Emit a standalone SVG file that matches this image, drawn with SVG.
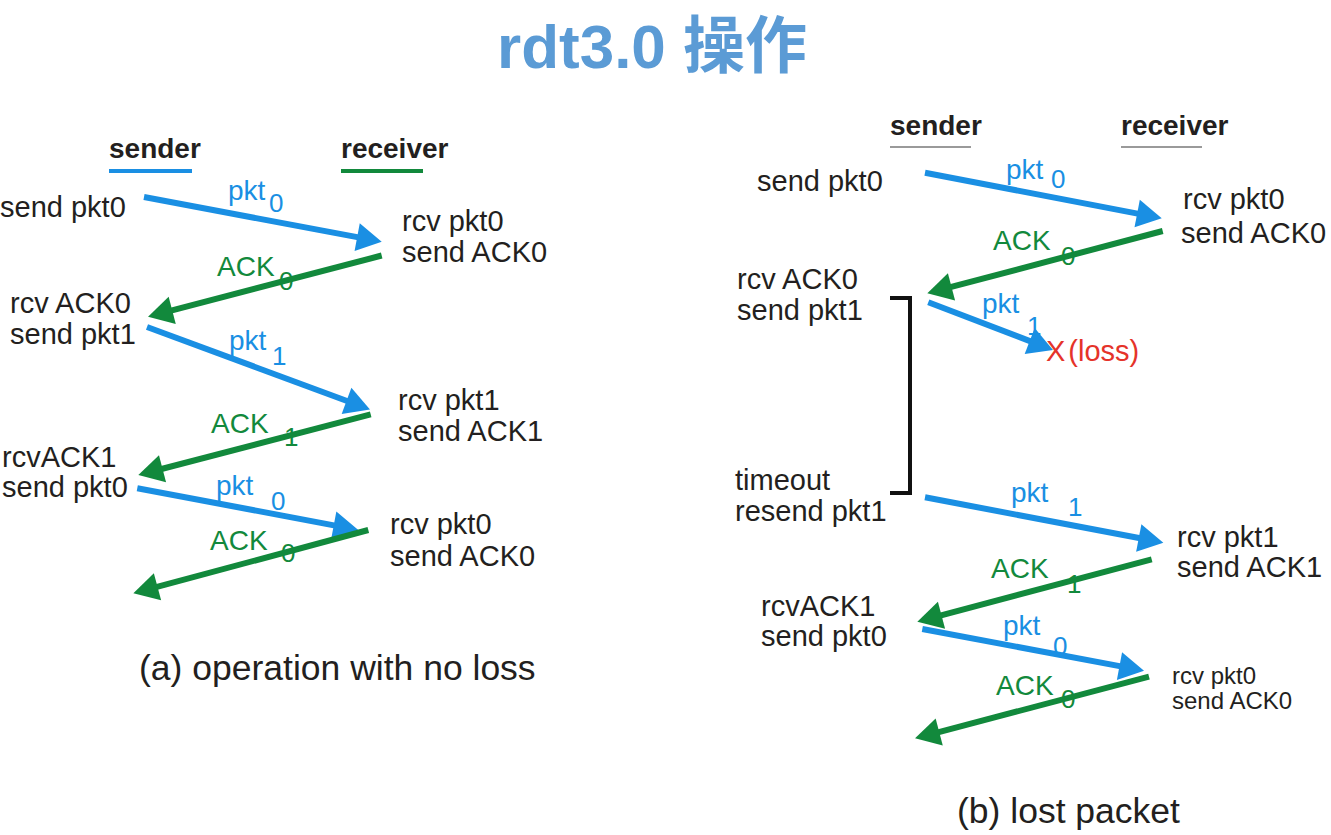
<svg xmlns="http://www.w3.org/2000/svg" width="1331" height="835" viewBox="0 0 1331 835">
<style>
text{font-family:"Liberation Sans","Noto Sans CJK SC",sans-serif}
.t{font-size:29px;fill:#231f20}
.ts{font-size:24px;fill:#231f20}
.h{font-size:28px;font-weight:bold;fill:#231f20}
.cap{font-size:35.5px;fill:#231f20}
.lb{font-size:28px;fill:#1a8fe3}
.sb{font-size:26px;fill:#1a8fe3}
.lg{font-size:28px;fill:#12893c}
.sg{font-size:26px;fill:#12893c}
.b{stroke:#1a8fe3;stroke-width:6;fill:none;marker-end:url(#ab)}
.g{stroke:#12893c;stroke-width:6;fill:none;marker-end:url(#ag)}
</style>
<defs>
<marker id="ab" markerUnits="userSpaceOnUse" markerWidth="25" markerHeight="28" refX="15" refY="14" orient="auto" overflow="visible"><path d="M0,0 L25,14 L0,28 z" fill="#1a8fe3"/></marker>
<marker id="ag" markerUnits="userSpaceOnUse" markerWidth="25" markerHeight="28" refX="15" refY="14" orient="auto" overflow="visible"><path d="M0,0 L25,14 L0,28 z" fill="#12893c"/></marker>
</defs>
<rect width="1331" height="835" fill="#ffffff"/>
<g id="title"><text x="497" y="68" style="font-size:62px;font-weight:bold;fill:#5b9bd5">rdt3.0 操作</text></g>

<!-- (a) -->
<g id="a-sender"><text class="h" x="109" y="158">sender</text><rect x="109" y="169" width="83" height="4" fill="#1a8fe3"/></g>
<g id="a-receiver"><text class="h" x="341" y="158">receiver</text><rect x="341" y="169" width="82" height="4" fill="#12893c"/></g>
<g id="a-s1"><text class="t" x="0" y="217">send pkt0</text></g>
<g id="a-r1"><text class="t" x="402" y="231">rcv pkt0</text><text class="t" x="402" y="262">send ACK0</text></g>
<g id="a-s2"><text class="t" x="10" y="313">rcv ACK0</text><text class="t" x="10" y="344">send pkt1</text></g>
<g id="a-r2"><text class="t" x="398" y="410">rcv pkt1</text><text class="t" x="398" y="441">send ACK1</text></g>
<g id="a-s3"><text class="t" x="2" y="467">rcvACK1</text><text class="t" x="2" y="497">send pkt0</text></g>
<g id="a-r3"><text class="t" x="390" y="534">rcv pkt0</text><text class="t" x="390" y="566">send ACK0</text></g>
<g id="a-labels">
<text class="lb" x="228" y="200">pkt</text><text class="sb" x="269" y="212">0</text>
<text class="lg" x="217" y="276">ACK</text><text class="sg" x="279" y="290">0</text>
<text class="lb" x="229" y="350">pkt</text><text class="sb" x="272" y="365">1</text>
<text class="lg" x="211" y="433">ACK</text><text class="sg" x="284" y="446">1</text>
<text class="lb" x="216" y="495">pkt</text><text class="sb" x="271" y="510">0</text>
<text class="lg" x="210" y="550">ACK</text><text class="sg" x="281" y="562">0</text>
</g>
<g id="a-caption"><text class="cap" x="139" y="680">(a) operation with no loss</text></g>

<!-- (b) -->
<g id="b-sender"><text class="h" x="890" y="135">sender</text><rect x="890" y="146" width="81" height="2" fill="#9a9a9a"/></g>
<g id="b-receiver"><text class="h" x="1121" y="135">receiver</text><rect x="1121" y="146" width="81" height="2" fill="#9a9a9a"/></g>
<g id="b-s1"><text class="t" x="757" y="191">send pkt0</text></g>
<g id="b-r1"><text class="t" x="1183" y="209">rcv pkt0</text><text class="t" x="1181" y="243">send ACK0</text></g>
<g id="b-s2"><text class="t" x="737" y="289">rcv ACK0</text><text class="t" x="737" y="320">send pkt1</text></g>
<g id="b-loss"><text x="1046" y="361" style="font-size:29px;fill:#e5332a">X<tspan dx="3">(loss)</tspan></text></g>
<g id="b-timeout"><path d="M890,298 H910 V493 H890" fill="none" stroke="#111" stroke-width="4"/><text class="t" x="735" y="490">timeout</text><text class="t" x="735" y="521">resend pkt1</text></g>
<g id="b-r2"><text class="t" x="1177" y="547">rcv pkt1</text><text class="t" x="1177" y="577">send ACK1</text></g>
<g id="b-s3"><text class="t" x="761" y="616">rcvACK1</text><text class="t" x="761" y="646">send pkt0</text></g>
<g id="b-r3"><text class="ts" x="1172" y="684">rcv pkt0</text><text class="ts" x="1172" y="709">send ACK0</text></g>
<g id="b-labels">
<text class="lb" x="1006" y="179">pkt</text><text class="sb" x="1051" y="188">0</text>
<text class="lg" x="993" y="250">ACK</text><text class="sg" x="1061" y="265">0</text>
<text class="lb" x="982" y="313">pkt</text><text class="sb" x="1027" y="335">1</text>
<text class="lb" x="1011" y="502">pkt</text><text class="sb" x="1068" y="516">1</text>
<text class="lg" x="991" y="578">ACK</text><text class="sg" x="1067" y="593">1</text>
<text class="lb" x="1003" y="635">pkt</text><text class="sb" x="1053" y="655">0</text>
<text class="lg" x="996" y="695">ACK</text><text class="sg" x="1061" y="708">0</text>
</g>
<g id="b-caption"><text class="cap" x="957" y="823">(b) lost packet</text></g>

<g id="connectors">
<path class="b" d="M144,197 L371.9,239.9"/>
<path class="g" d="M381.7,255.5 L157.7,314.2"/>
<path class="b" d="M147,327 L360.6,406"/>
<path class="g" d="M370.7,414.3 L148,472.5"/>
<path class="b" d="M137.3,488.3 L348.5,528.1"/>
<path class="g" d="M368.3,530 L143,590.7"/>
<path class="b" d="M925,172.7 L1151.9,216.4"/>
<path class="g" d="M1162.7,231 L937,290.7"/>
<path class="b" d="M928.3,302.3 L1043.7,346.4"/>
<path class="b" d="M925,497.3 L1153.5,540.8"/>
<path class="g" d="M1151.7,559.3 L927,619.1"/>
<path class="b" d="M922.3,629 L1134.2,668.9"/>
<path class="g" d="M1149,676.7 L924.7,735.8"/>
</g>
</svg>
